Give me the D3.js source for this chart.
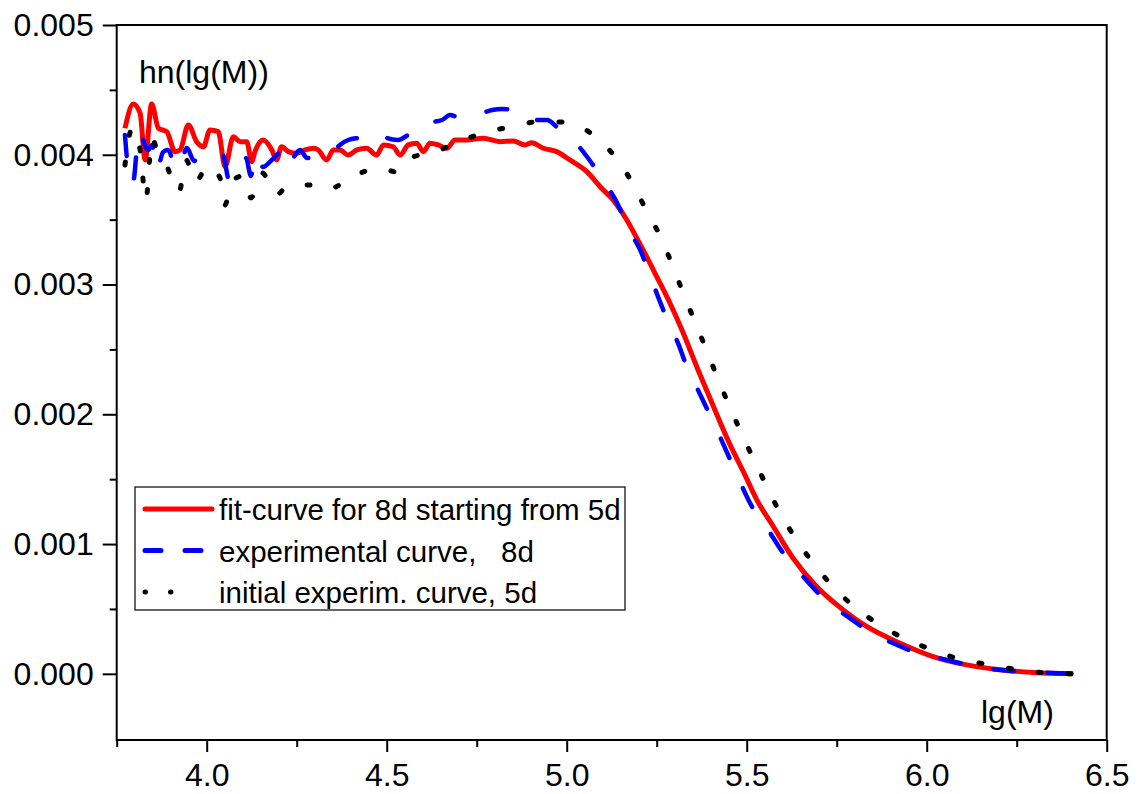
<html>
<head>
  <script src="https://d3js.org/d3.v7.min.js"></script>
  <style>
    body { margin: 0; background: white; }
    text { font-family: "Liberation Sans", Arial, sans-serif; white-space: pre; }
  </style>
</head>
<body>
  <svg id="chart" width="1138" height="794"></svg>
  <script>
    // fit-curve for 8d starting from 5d (red, solid)
    const fitLgM = [3.773, 3.796, 3.815, 3.829, 3.847, 3.866, 3.889, 3.912, 3.926, 3.949, 3.972, 3.991,
      4.009, 4.032, 4.051, 4.074, 4.093, 4.111, 4.125, 4.134, 4.157, 4.181, 4.194, 4.208, 4.227, 4.250,
      4.273, 4.296, 4.310, 4.333, 4.352, 4.370, 4.393, 4.417, 4.444, 4.472, 4.491, 4.518, 4.537, 4.560,
      4.583, 4.602, 4.620, 4.643, 4.667, 4.690, 4.722, 4.768, 4.815, 4.852, 4.884, 4.903, 4.935, 4.972,
      5.009, 5.056, 5.093, 5.129, 5.167, 5.185, 5.222, 5.250, 5.287, 5.324, 5.361, 5.398, 5.454, 5.495,
      5.528, 5.574, 5.629, 5.694, 5.768, 5.833, 5.926, 6.018, 6.111, 6.204, 6.296, 6.407];
    const fitHn = [0.004204, 0.004391, 0.004320, 0.003960, 0.004391, 0.004204, 0.004178, 0.004024, 0.004037,
      0.004230, 0.004101, 0.004062, 0.004191, 0.004178, 0.003908, 0.004139, 0.004101, 0.004101, 0.003947,
      0.004024, 0.004114, 0.004037, 0.003960, 0.004062, 0.004024, 0.004011, 0.004037, 0.004050, 0.004037,
      0.003960, 0.004037, 0.004037, 0.003998, 0.004037, 0.004050, 0.003998, 0.004076, 0.004062, 0.003998,
      0.004076, 0.004089, 0.004024, 0.004089, 0.004076, 0.004050, 0.004114, 0.004114, 0.004127, 0.004101,
      0.004106, 0.004076, 0.004093, 0.004050, 0.004024, 0.003960, 0.003870, 0.003754, 0.003652, 0.003498,
      0.003408, 0.003215, 0.003061, 0.002856, 0.002625, 0.002368, 0.002124, 0.001764, 0.001533, 0.001341,
      0.001135, 0.000891, 0.000673, 0.000493, 0.000365, 0.000236, 0.000133, 0.000069, 0.000031, 0.000010, 0.000000];

    // experimental curve, 8d (blue, dashed)
    const expLgM = [3.773, 3.779, 3.795, 3.812, 3.837, 3.848, 3.862, 3.879, 3.893, 3.912, 3.923, 3.945,
      3.965, 3.981, 4.009, 4.026, 4.045, 4.062, 4.087, 4.109, 4.123, 4.134, 4.156, 4.181, 4.204, 4.220,
      4.240, 4.259, 4.279, 4.295, 4.320, 4.351, 4.370, 4.393, 4.420, 4.454, 4.481, 4.501, 4.531, 4.559,
      4.576, 4.601, 4.626, 4.654, 4.676, 4.704, 4.731, 4.765, 4.793, 4.820, 4.854, 4.890, 4.918, 4.945,
      4.976, 5.015, 5.059, 5.106, 5.140, 5.170, 5.204, 5.231, 5.254, 5.282, 5.309, 5.334, 5.362, 5.412,
      5.462, 5.515, 5.556, 5.601, 5.648, 5.712, 5.773, 5.843, 5.904, 5.973, 6.032, 6.101, 6.157, 6.231,
      6.295, 6.362, 6.407];
    const expHn = [0.004153, 0.003960, 0.003783, 0.004168, 0.004037, 0.004076, 0.003883, 0.004022, 0.004037,
      0.003906, 0.003898, 0.004052, 0.003952, 0.003983, 0.004014, 0.003983, 0.003998, 0.003806, 0.003937,
      0.003975, 0.003837, 0.003998, 0.003906, 0.003960, 0.004014, 0.003898, 0.003975, 0.004037, 0.003975,
      0.003975, 0.003998, 0.004022, 0.004076, 0.004114, 0.004129, 0.004137, 0.004168, 0.004129, 0.004114,
      0.004153, 0.004191, 0.004245, 0.004253, 0.004268, 0.004307, 0.004284, 0.004299, 0.004322, 0.004345,
      0.004353, 0.004345, 0.004330, 0.004268, 0.004268, 0.004206, 0.004122, 0.003975, 0.003783, 0.003629,
      0.003436, 0.003267, 0.003074, 0.002904, 0.002712, 0.002550, 0.002365, 0.002203, 0.001911, 0.001602,
      0.001287, 0.001125, 0.000932, 0.000778, 0.000586, 0.000455, 0.000324, 0.000239, 0.000162, 0.000123,
      0.000077, 0.000046, 0.000023, 0.000015, 0.000005, 0.000000];

    // initial experim. curve, 5d (black, dotted)
    const initLgM = [3.773, 3.793, 3.815, 3.831, 3.848, 3.862, 3.884, 3.923, 3.943, 3.968, 4.004, 4.037,
      4.051, 4.068, 4.101, 4.123, 4.154, 4.193, 4.226, 4.287, 4.331, 4.384, 4.434, 4.481, 4.529, 4.573,
      4.626, 4.693, 4.768, 4.843, 4.918, 4.990, 5.070, 5.137, 5.187, 5.223, 5.265, 5.295, 5.326, 5.356,
      5.387, 5.418, 5.476, 5.531, 5.593, 5.640, 5.695, 5.765, 5.840, 5.918, 5.993, 6.070, 6.143, 6.220,
      6.295, 6.370, 6.407];
    const initHn = [0.003921, 0.004206, 0.004037, 0.003652, 0.004129, 0.004037, 0.003945, 0.003713, 0.003960,
      0.003790, 0.003914, 0.003821, 0.003613, 0.003790, 0.003837, 0.003667, 0.003860, 0.003690, 0.003760,
      0.003767, 0.003729, 0.003790, 0.003867, 0.003898, 0.003867, 0.003983, 0.004014, 0.004091, 0.004168,
      0.004214, 0.004253, 0.004253, 0.004160, 0.003975, 0.003760, 0.003559, 0.003344, 0.003136, 0.002920,
      0.002712, 0.002504, 0.002288, 0.001911, 0.001587, 0.001240, 0.001025, 0.000817, 0.000601, 0.000431,
      0.000300, 0.000208, 0.000131, 0.000085, 0.000046, 0.000015, 0.000004, 0.000000];

    const xTicks = [4.0, 4.5, 5.0, 5.5, 6.0, 6.5];
    const xMinorTicks = [3.75, 4.25, 4.75, 5.25, 5.75, 6.25];
    const yTicks = [0, 0.001, 0.002, 0.003, 0.004, 0.005];
    const yMinorTicks = [0.0005, 0.0015, 0.0025, 0.0035, 0.0045];
    const legendLabels = ["fit-curve for 8d starting from 5d", "experimental curve,   8d", "initial experim. curve, 5d"];

    const svg = d3.select("#chart");
    const plotLeft = 116.7, plotRight = 1106.7, plotTop = 25, plotBottom = 740;

    const xScale = d3.scaleLinear().domain([3.75, 6.5]).range([plotLeft, plotRight]);
    const yScale = d3.scaleLinear().domain([-0.00051, 0.005]).range([plotBottom, plotTop]);

    // frame
    svg.append("rect")
      .attr("x", plotLeft).attr("y", plotTop)
      .attr("width", plotRight - plotLeft).attr("height", plotBottom - plotTop)
      .attr("fill", "none").attr("stroke", "black").attr("stroke-width", 2);

    // minor ticks
    svg.append("g")
      .attr("transform", `translate(0,${plotBottom})`)
      .call(d3.axisBottom(xScale).tickValues(xMinorTicks).tickSize(7).tickFormat(""))
      .call(g => g.select(".domain").remove())
      .selectAll("line").attr("stroke-width", 2);
    svg.append("g")
      .attr("transform", `translate(${plotLeft},0)`)
      .call(d3.axisLeft(yScale).tickValues(yMinorTicks).tickSize(7).tickFormat(""))
      .call(g => g.select(".domain").remove())
      .selectAll("line").attr("stroke-width", 2);

    // major ticks
    const xAxis = svg.append("g")
      .attr("transform", `translate(0,${plotBottom})`)
      .call(d3.axisBottom(xScale).tickValues(xTicks).tickSize(12).tickPadding(11).tickFormat(d3.format(".1f")));
    xAxis.select(".domain").remove();
    xAxis.selectAll("line").attr("stroke-width", 2);
    xAxis.selectAll("text").style("font-size", "32px").style("font-family", "Liberation Sans, Arial").attr("fill", "black");

    const yAxis = svg.append("g")
      .attr("transform", `translate(${plotLeft},0)`)
      .call(d3.axisLeft(yScale).tickValues(yTicks).tickSize(14).tickPadding(9).tickFormat(d3.format(".3f")));
    yAxis.select(".domain").remove();
    yAxis.selectAll("line").attr("stroke-width", 2);
    yAxis.selectAll("text").style("font-size", "32px").style("font-family", "Liberation Sans, Arial").attr("fill", "black");

    // axis titles
    svg.append("text").attr("x", 139).attr("y", 83)
      .style("font-size", "32px").text("hn(lg(M))");
    svg.append("text").attr("x", 981).attr("y", 723)
      .style("font-size", "32px").text("lg(M)");

    const line = d3.line()
      .x(d => xScale(d[0]))
      .y(d => yScale(d[1]))
      .curve(d3.curveMonotoneX);

    const fitData = d3.zip(fitLgM, fitHn);
    const expData = d3.zip(expLgM, expHn);
    const initData = d3.zip(initLgM, initHn);

    svg.append("path").datum(fitData)
      .attr("d", line)
      .attr("fill", "none").attr("stroke", "#ff0000")
      .attr("stroke-width", 5).attr("stroke-linejoin", "round");

    svg.append("path").datum(expData)
      .attr("d", line)
      .attr("fill", "none").attr("stroke", "#0000ff")
      .attr("stroke-width", 4.5).attr("stroke-linecap", "round")
      .attr("stroke-dasharray", "21 33");

    svg.append("path").datum(initData)
      .attr("d", line)
      .attr("fill", "none").attr("stroke", "black")
      .attr("stroke-width", 5).attr("stroke-linecap", "round")
      .attr("stroke-dasharray", "3 27");

    // legend
    svg.append("rect")
      .attr("x", 135).attr("y", 487).attr("width", 490).attr("height", 123)
      .attr("fill", "white").attr("stroke", "black").attr("stroke-width", 1.2);

    const legendStyles = [
      { color: "#ff0000", dash: null, x2: 212 },
      { color: "#0000ff", dash: "16 24", x2: 202 },
      { color: "black", dash: "0.5 25", x2: 196 }
    ];
    legendLabels.forEach((label, i) => {
      const ly = 509 + i * 41.5;
      const s = legendStyles[i];
      svg.append("line")
        .attr("x1", 145).attr("x2", s.x2)
        .attr("y1", ly).attr("y2", ly)
        .attr("stroke", s.color).attr("stroke-width", 5)
        .attr("stroke-linecap", "round")
        .attr("stroke-dasharray", s.dash);
      svg.append("text")
        .attr("x", 219).attr("y", ly + 11)
        .attr("xml:space", "preserve")
        .style("font-size", "29.5px")
        .text(label);
    });
  </script>
</body>
</html>
